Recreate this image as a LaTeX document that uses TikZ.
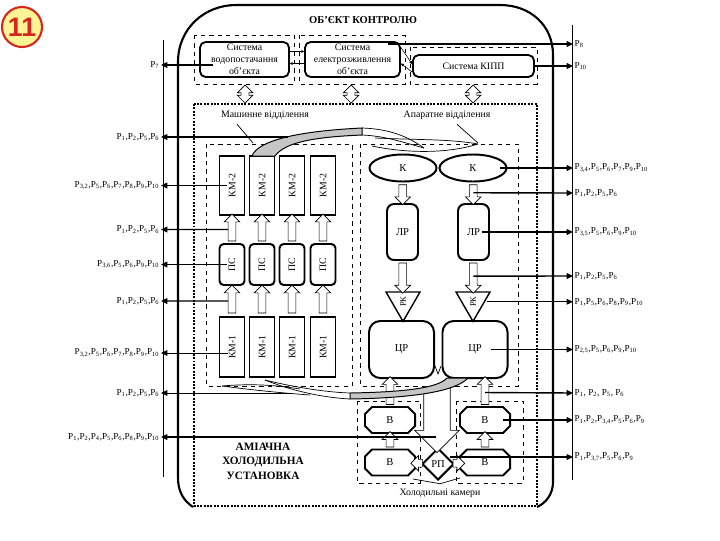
\documentclass[tikz,border=0pt]{standalone}
\usepackage{graphicx}
\usepackage{fontspec}
\setmainfont{Liberation Serif}
\newfontfamily\badgefont{Liberation Sans}
\usepackage{tikz}
\usetikzlibrary{positioning,calc,shapes.geometric,shapes.misc,shapes.arrows,arrows.meta}

\newcommand{\pv}[1]{P\textsubscript{#1}}
\definecolor{badgered}{RGB}{216,38,28}
\definecolor{badgefill}{RGB}{255,245,150}

\tikzset{
  frame/.style={line width=1.5pt},
  bus/.style={line width=0.6pt},
  grp/.style={draw, dashed, line width=0.5pt},
  room/.style={draw, densely dotted, line width=1.4pt},
  title/.style={font=\bfseries\fontsize{7.5}{9}\selectfont},
  txt/.style={font=\fontsize{7}{8.5}\selectfont},
  sysbox/.style={draw, rounded corners=4pt, line width=1.3pt, align=center, inner sep=0pt, font=\fontsize{7}{8.5}\selectfont},
  unit/.style={draw, line width=1.4pt, inner sep=0pt, minimum width=0.625cm, font=\fontsize{7}{8}\selectfont},
  vessel/.style={draw, rounded corners=5pt, line width=1.4pt, inner sep=0pt, font=\fontsize{7.5}{9}\selectfont},
  cond/.style={draw, ellipse, line width=1.4pt, minimum width=1.675cm, minimum height=0.675cm, inner sep=0pt, font=\fontsize{7.5}{9}\selectfont},
  valve/.style={draw, regular polygon, regular polygon sides=3, shape border rotate=180, minimum size=0.98cm, inner sep=0pt, line width=1pt, font=\fontsize{6}{7}\selectfont},
  cooler/.style={draw, chamfered rectangle, chamfered rectangle xsep=2.5pt, chamfered rectangle ysep=2.5pt, line width=1.4pt, minimum width=1.25cm, minimum height=0.65cm, inner sep=0pt, font=\fontsize{7.5}{9}\selectfont},
  regul/.style={draw, diamond, aspect=1, line width=1.4pt, minimum width=0.8cm, minimum height=0.8cm, inner sep=0pt, font=\fontsize{7.5}{9}\selectfont},
  holl/.style={single arrow, draw, fill=white, line width=0.5pt, inner sep=2.5pt, single arrow head extend=2.8pt},
  dholl/.style={double arrow, draw, fill=white, line width=0.5pt, inner sep=2.5pt, double arrow head extend=2.8pt},
  sig/.style={line width=1pt, -{Triangle[length=4.5pt,width=4pt]}},
  sigt/.style={line width=0.5pt, -{Triangle[length=4.5pt,width=4pt]}},
  tick/.style={line width=0.4pt, -{Triangle[length=2pt,width=2pt]}},
  lbl/.style={font=\fontsize{6.5}{7}\selectfont, inner sep=1pt},
  pipe/.style={line width=0.5pt},
  band/.style={line width=0.7pt, fill=gray!45},
}

\begin{document}
\begin{tikzpicture}[x=0.025cm,y=-0.025cm]
\useasboundingbox (0,0) rectangle (720,540);

% badge
\node[circle, draw=badgered, line width=1.5pt, fill=badgefill, minimum size=1cm, inner sep=0pt, text=badgered, font=\badgefont\bfseries\fontsize{19}{19}\selectfont] (badge) at (22,27) {11};

% object frame
\draw[frame] (193,507) .. controls (184,501) and (178,492) .. (178,478) -- (178,62)
  .. controls (178,28) and (205,5) .. (236,5) -- (500,5)
  .. controls (530,5) and (553,25) .. (553,55) -- (553,482)
  .. controls (553,494) and (546,503) .. (537,507);
\node[title] (obj) at (363,20) {ОБ'ЄКТ КОНТРОЛЮ};

% buses
\draw[bus] (163,40) -- (163,477);
\draw[bus] (572,25) -- (572,480);

% top systems
\draw[grp] (194,35) rectangle (294,84);
\draw[grp] (299,35) rectangle (405,84);
\draw[grp] (410,47) rectangle (537,84);
\node[sysbox, minimum width=2.225cm, minimum height=0.875cm] (sys1) at (244.5,59.5) {Система\\водопостачання\\об'єкта};
\node[sysbox, minimum width=2.375cm, minimum height=0.875cm] (sys2) at (352.5,59.5) {Система\\електрозживлення\\об'єкта};
\node[sysbox, minimum width=3.025cm, minimum height=0.55cm] (sys3) at (473.5,66) {Система КІПП};
\draw[tick] ([yshift=0.2cm]sys1.east) -- ([yshift=0.2cm]sys2.west);
\draw[tick] ([yshift=-0.1cm]sys2.west) -- ([yshift=-0.1cm]sys1.east);
\draw[tick] ([yshift=0.3cm]sys2.east) -- ([yshift=0.05cm]sys3.west);
\draw[tick] ([yshift=-0.15cm]sys3.west) -- ([yshift=-0.1cm]sys2.east);

\node[dholl, rotate=90, minimum height=0.45cm] (da1) at (245,94) {};
\node[dholl, rotate=90, minimum height=0.45cm] (da2) at (351,94) {};
\node[dholl, rotate=90, minimum height=0.45cm] (da3) at (473,94) {};

% plant rooms
\draw[room] (194,104) rectangle (537,506);
\draw[grp] (206,144) rectangle (352,386);
\draw[grp] (360,144) rectangle (518,386);
\node[txt] (mash) at (265,115) {Машинне відділення};
\node[txt] (apar) at (447,115) {Апаратне відділення};
\coordinate (mashpt) at (253,143);
\coordinate (aparpt) at (478,143);
\draw[pipe] ([xshift=-0.7cm]mash.south) -- (mashpt);
\draw[pipe] ([xshift=0.25cm]apar.south) -- (aparpt);

% compressors, separators
\node[unit, minimum height=1.475cm] (km2a) at (232,185.5) {\rotatebox{90}{КМ-2}};
\node[unit, minimum height=1.475cm] (km2b) at (262,185.5) {\rotatebox{90}{КМ-2}};
\node[unit, minimum height=1.475cm] (km2c) at (292,185.5) {\rotatebox{90}{КМ-2}};
\node[unit, minimum height=1.475cm] (km2d) at (323,185.5) {\rotatebox{90}{КМ-2}};
\node[unit, rounded corners=3pt, minimum height=1.025cm] (ps1) at (232,264.5) {\rotatebox{90}{ПС}};
\node[unit, rounded corners=3pt, minimum height=1.025cm] (ps2) at (262,264.5) {\rotatebox{90}{ПС}};
\node[unit, rounded corners=3pt, minimum height=1.025cm] (ps3) at (292,264.5) {\rotatebox{90}{ПС}};
\node[unit, rounded corners=3pt, minimum height=1.025cm] (ps4) at (323,264.5) {\rotatebox{90}{ПС}};
\node[unit, minimum height=1.5cm] (km1a) at (232,347) {\rotatebox{90}{КМ-1}};
\node[unit, minimum height=1.5cm] (km1b) at (262,347) {\rotatebox{90}{КМ-1}};
\node[unit, minimum height=1.5cm] (km1c) at (292,347) {\rotatebox{90}{КМ-1}};
\node[unit, minimum height=1.5cm] (km1d) at (323,347) {\rotatebox{90}{КМ-1}};
\node[holl, rotate=90, minimum height=0.675cm] (ua1) at ($(ps1.north)!0.5!(km2a.south)$) {};
\node[holl, rotate=90, minimum height=0.675cm] (ua2) at ($(ps2.north)!0.5!(km2b.south)$) {};
\node[holl, rotate=90, minimum height=0.675cm] (ua3) at ($(ps3.north)!0.5!(km2c.south)$) {};
\node[holl, rotate=90, minimum height=0.675cm] (ua4) at ($(ps4.north)!0.5!(km2d.south)$) {};
\node[holl, rotate=90, minimum height=0.7cm] (ub1) at ($(km1a.north)!0.5!(ps1.south)$) {};
\node[holl, rotate=90, minimum height=0.7cm] (ub2) at ($(km1b.north)!0.5!(ps2.south)$) {};
\node[holl, rotate=90, minimum height=0.7cm] (ub3) at ($(km1c.north)!0.5!(ps3.south)$) {};
\node[holl, rotate=90, minimum height=0.7cm] (ub4) at ($(km1d.north)!0.5!(ps4.south)$) {};

% condensers, receivers
\node[cond] (k1) at (403,168) {К};
\node[cond] (k2) at (473,168) {К};
\node[vessel, minimum width=0.775cm, minimum height=1.4cm] (lr1) at (402.5,232) {ЛР};
\node[vessel, minimum width=0.775cm, minimum height=1.4cm] (lr2) at (473.5,232) {ЛР};
\node[valve] (rk1) at (403,301.8) {\rotatebox{90}{РК}};
\node[valve] (rk2) at (473,301.8) {\rotatebox{90}{РК}};
\node[vessel, rounded corners=8pt, minimum width=1.625cm, minimum height=1.425cm] (cr1) at (401.5,349.5) {ЦР};
\node[vessel, rounded corners=8pt, minimum width=1.625cm, minimum height=1.425cm] (cr2) at (475,349.5) {ЦР};
\node[holl, rotate=-90, minimum height=0.5cm] (dk1) at ($(k1.south)!0.5!(lr1.north)$) {};
\node[holl, rotate=-90, minimum height=0.5cm] (dk2) at ($(k2.south)!0.5!(lr2.north)$) {};
\node[holl, rotate=-90, minimum height=0.75cm] (dl1) at ($(lr1.south)!0.5!(rk1.north)$) {};
\node[holl, rotate=-90, minimum height=0.75cm] (dl2) at ($(lr2.south)!0.5!(rk2.north)$) {};
\draw[pipe] (435,366) -- (438,374) -- (441,366);

% cold rooms
\draw[grp] (357,401) rectangle (420,483);
\draw[grp] (456,401) rectangle (523,483);
\node[cooler] (v1) at (390,420) {В};
\node[cooler] (v2) at (485,420) {В};
\node[cooler] (v3) at (390,462.5) {В};
\node[cooler] (v4) at (485,462.5) {В};
\node[regul] (rp) at (438,464) {РП};
\node[holl, rotate=90, minimum height=0.7cm] (uc1) at ($(v1.north)!0.5!(v1.north |- cr1.south)$) {};
\node[holl, rotate=90, minimum height=0.7cm] (uc2) at ($(v2.north)!0.5!(v2.north |- cr2.south)$) {};
\node[holl, rotate=90, minimum height=0.38cm] (uv1) at ($(v3.north)!0.5!(v1.south)$) {};
\node[holl, rotate=90, minimum height=0.38cm] (uv2) at ($(v4.north)!0.5!(v2.south)$) {};
\node[holl, rotate=180, minimum height=0.2cm] (hl) at ($(rp.west)!0.5!(v3.east)$) {};
\node[holl, minimum height=0.2cm] (hr) at ($(rp.east)!0.5!(v4.west)$) {};
\node[holl, rotate=-90, inner sep=9.2pt, single arrow head extend=6.4pt, minimum height=1.65cm] (bigar) at (437,413) {};
\node[txt] (kam) at (440,493) {Холодильні камери};
\coordinate (kaml) at (413,479);
\coordinate (kamr) at (460,478);
\draw[pipe] (kaml) -- (kam.north) -- (kamr);

\node[font=\bfseries\fontsize{8}{10.3}\selectfont, align=center] (ahu) at (263,461) {АМІАЧНА\\ХОЛОДИЛЬНА\\УСТАНОВКА};

% suction and discharge pipes
\draw[band] (252,156) .. controls (258,140) and (300,131) .. (362,128) -- (362,135)
  .. controls (315,137) and (285,142) .. (275,156) -- cycle;
\draw[pipe] (362,128) .. controls (392,129) and (410,138) .. (424,148);
\draw[pipe] (362,135) .. controls (385,136) and (402,142) .. (424,148);
\draw[pipe] (375,138) .. controls (420,140) and (450,139) .. (478,144);
\draw[pipe] (372,146) .. controls (410,154) and (450,153) .. (478,144);
\draw[band] (447,378) -- (468,378) .. controls (455,392) and (410,398) .. (350,399) -- (350,393)
  .. controls (405,392) and (438,388) .. (447,378) -- cycle;
\draw[pipe] (350,393) .. controls (320,392) and (285,385) .. (265,380);
\draw[pipe] (350,399) .. controls (315,397) and (285,388) .. (265,380);
\draw[pipe] (300,389) .. controls (270,384) and (245,384) .. (222,386);
\draw[pipe] (310,395) .. controls (270,392) and (245,389) .. (222,386);

% measured parameters, left
\node[lbl, anchor=east] (l0) at (161,65) {\pv{7}};
\node[lbl, anchor=east] (l1) at (161,137) {\pv{1},\pv{2},\pv{5},\pv{6}};
\node[lbl, anchor=east] (l2) at (161,185.5) {\pv{3,2},\pv{5},\pv{6},\pv{7},\pv{8},\pv{9},\pv{10}};
\node[lbl, anchor=east] (l3) at (161,229.5) {\pv{1},\pv{2},\pv{5},\pv{6}};
\node[lbl, anchor=east] (l4) at (161,264.5) {\pv{3,6},\pv{5},\pv{6},\pv{9},\pv{10}};
\node[lbl, anchor=east] (l5) at (161,301) {\pv{1},\pv{2},\pv{5},\pv{6}};
\node[lbl, anchor=east] (l6) at (161,353) {\pv{3,2},\pv{5},\pv{6},\pv{7},\pv{8},\pv{9},\pv{10}};
\node[lbl, anchor=east] (l7) at (161,393) {\pv{1},\pv{2},\pv{5},\pv{6}};
\node[lbl, anchor=east] (l8) at (161,437) {\pv{1},\pv{2},\pv{4},\pv{5},\pv{6},\pv{8},\pv{9},\pv{10}};
\coordinate (o7) at (213,65);
\coordinate (suc) at (288,137);
\coordinate (o6) at (228,353);
\coordinate (sucb) at (290,393);
\coordinate (rpin) at (436,437);
\draw[sig] (o7) -- (l0.east);
\draw[sig] (suc) -- (l1.east);
\draw[sig] ([xshift=0.2cm]km2a.west) -- (l2.east);
\draw[sig] ([xshift=-0.1cm]ua1.center) -- (l3.east);
\draw[sig] ([xshift=0.2cm]ps1.west) -- (l4.east);
\draw[sig] ([xshift=-0.1cm]ub1.center) -- (l5.east);
\draw[sigt] (o6) -- (l6.east);
\draw[sigt] (sucb) -- (l7.east);
\draw[sig] (rpin) -- (l8.east);

% measured parameters, right
\node[lbl, anchor=west] (r1) at (573,44) {\pv{8}};
\node[lbl, anchor=west] (r2) at (573,66) {\pv{10}};
\node[lbl, anchor=west] (r3) at (573,168) {\pv{3,4},\pv{5},\pv{6},\pv{7},\pv{9},\pv{10}};
\node[lbl, anchor=west] (r4) at (573,193) {\pv{1},\pv{2},\pv{5},\pv{6}};
\node[lbl, anchor=west] (r5) at (573,232) {\pv{3,5},\pv{5},\pv{6},\pv{9},\pv{10}};
\node[lbl, anchor=west] (r6) at (573,276) {\pv{1},\pv{2},\pv{5},\pv{6}};
\node[lbl, anchor=west] (r7) at (573,301.8) {\pv{1},\pv{5},\pv{6},\pv{8},\pv{9},\pv{10}};
\node[lbl, anchor=west] (r8) at (573,349.5) {\pv{2,5},\pv{5},\pv{6},\pv{9},\pv{10}};
\node[lbl, anchor=west] (r9) at (573,393) {\pv{1}, \pv{2}, \pv{5}, \pv{6}};
\node[lbl, anchor=west] (r10) at (573,420) {\pv{1},\pv{2},\pv{3,4},\pv{5},\pv{6},\pv{9}};
\node[lbl, anchor=west] (r11) at (573,457) {\pv{1},\pv{3,7},\pv{5},\pv{6},\pv{9}};
\coordinate (o8) at (388,44);
\coordinate (o457) at (450,457);
\draw[sig] (o8) -- (r1.west);
\draw[sig] ([xshift=-0.05cm]sys3.east) -- (r2.west);
\draw[sig] ([xshift=-0.2cm]k2.east) -- (r3.west);
\draw[sig] (dk2.center) -- (r4.west);
\draw[sig] ([xshift=0.2cm]lr2.center) -- (r5.west);
\draw[sig] (dl2.center) -- (r6.west);
\draw[sigt] ([xshift=0.35cm]rk2.center) -- (r7.west);
\draw[sigt] ([xshift=0.4cm]cr2.center) -- (r8.west);
\draw[sig] (uc2.center) -- (r9.west);
\draw[sig] ([xshift=0.45cm]v2.center) -- (r10.west);
\draw[sig] (o457) -- (r11.west);
\end{tikzpicture}
\end{document}
